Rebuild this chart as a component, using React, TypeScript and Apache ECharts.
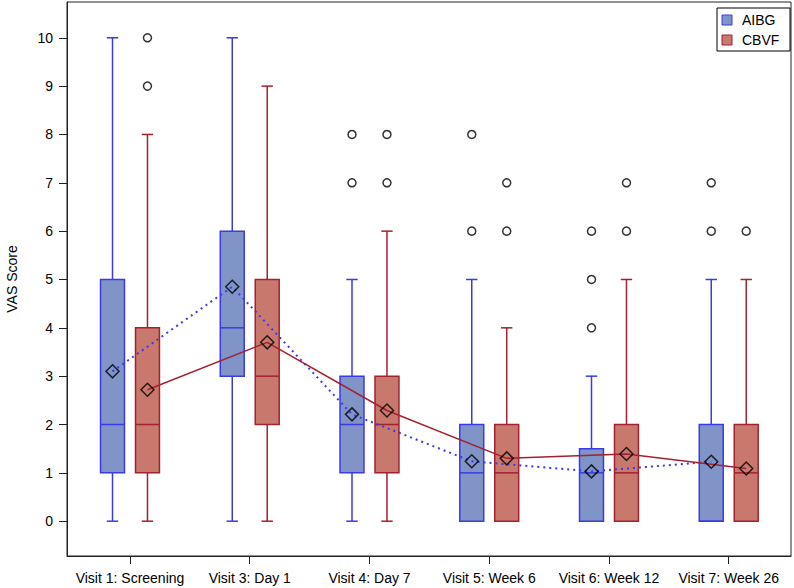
import React, { useEffect, useRef } from "react";
import * as echarts from "echarts";

const categories = [
  "Visit 1: Screening",
  "Visit 3: Day 1",
  "Visit 4: Day 7",
  "Visit 5: Week 6",
  "Visit 6: Week 12",
  "Visit 7: Week 26",
];
const seriesNames = ["AIBG", "CBVF"];
const yTicks = [0, 1, 2, 3, 4, 5, 6, 7, 8, 9, 10];

const aibgMin = [0, 0, 0, 0, 0, 0];
const aibgQ1 = [1, 3, 1, 0, 0, 0];
const aibgMedian = [2, 4, 2, 1, 1, 0];
const aibgQ3 = [5, 6, 3, 2, 1.5, 2];
const aibgMax = [10, 10, 5, 5, 3, 5];
const aibgMean = [3.1, 4.85, 2.21, 1.24, 1.03, 1.23];
const aibgOutliers = [[], [], [7, 8], [6, 8], [4, 5, 6], [6, 7]];

const cbvfMin = [0, 0, 0, 0, 0, 0];
const cbvfQ1 = [1, 2, 1, 0, 0, 0];
const cbvfMedian = [2, 3, 2, 1, 1, 1];
const cbvfQ3 = [4, 5, 3, 2, 2, 2];
const cbvfMax = [8, 9, 6, 4, 5, 5];
const cbvfMean = [2.72, 3.7, 2.29, 1.3, 1.39, 1.09];
const cbvfOutliers = [[9, 10], [], [7, 8], [6, 7], [6, 7], [6]];

const FONT = "Liberation Sans, Arial, Helvetica, sans-serif";
const OFFSET = 0.146; // group offset in category units
const BOX_W = 0.2; // box width in category units
const CAP_W = 0.095;

const AIBG_FILL = "#8094c8";
const AIBG_STROKE = "#3a3ae6";
const CBVF_FILL = "#c8786c";
const CBVF_STROKE = "#a32130";

function boxData(mn: number[], q1: number[], md: number[], q3: number[], mx: number[]) {
  return categories.map((_, i) => [i, mn[i], q1[i], md[i], q3[i], mx[i]]);
}

function makeBoxSeries(name: string, data: number[][], offset: number, fill: string, stroke: string) {
  return {
    type: "custom",
    name,
    xAxisIndex: 0,
    yAxisIndex: 0,
    encode: { x: 0, y: [1, 2, 3, 4, 5] },
    data,
    z: 2,
    renderItem: (params: any, api: any) => {
      const i = api.value(0) + offset;
      const pMin = api.coord([i, api.value(1)]);
      const pQ1 = api.coord([i, api.value(2)]);
      const pMd = api.coord([i, api.value(3)]);
      const pQ3 = api.coord([i, api.value(4)]);
      const pMax = api.coord([i, api.value(5)]);
      const unit = api.size([1, 0])[0];
      const bw = BOX_W * unit;
      const cw = CAP_W * unit;
      const x = pQ1[0];
      const ls = { stroke, lineWidth: 1.5 };
      return {
        type: "group",
        children: [
          { type: "line", shape: { x1: x, y1: pMin[1], x2: x, y2: pQ1[1] }, style: ls },
          { type: "line", shape: { x1: x, y1: pQ3[1], x2: x, y2: pMax[1] }, style: ls },
          { type: "line", shape: { x1: x - cw / 2, y1: pMin[1], x2: x + cw / 2, y2: pMin[1] }, style: ls },
          { type: "line", shape: { x1: x - cw / 2, y1: pMax[1], x2: x + cw / 2, y2: pMax[1] }, style: ls },
          {
            type: "rect",
            shape: { x: x - bw / 2, y: pQ3[1], width: bw, height: pQ1[1] - pQ3[1] },
            style: { fill, stroke, lineWidth: 1.5 },
          },
          { type: "line", shape: { x1: x - bw / 2, y1: pMd[1], x2: x + bw / 2, y2: pMd[1] }, style: ls },
        ],
      };
    },
  };
}

function outlierData(list: number[][], offset: number) {
  const out: number[][] = [];
  list.forEach((vals, i) => vals.forEach((v) => out.push([i + offset, v])));
  return out;
}

function meanData(means: number[], offset: number) {
  return means.map((m, i) => [i + offset, m]);
}

export default function App() {
  const ref = useRef<HTMLDivElement>(null);
  useEffect(() => {
    if (!ref.current) return;
    const chart = echarts.init(ref.current, null, { renderer: "svg" });
    const option: any = {
      animation: false,
      backgroundColor: "#fff",
      textStyle: { fontFamily: FONT },
      grid: {
        left: 67,
        right: 3,
        top: 2,
        bottom: 32,
        outerBoundsMode: "none",
        containLabel: false,
        show: true,
        borderColor: "#222",
        borderWidth: 1,
        backgroundColor: "transparent",
      },
      xAxis: {
        type: "value",
        min: -0.526,
        max: 5.52,
        axisLine: { show: true, onZero: false, lineStyle: { color: "#222", width: 1 } },
        axisTick: { show: true, length: 8, customValues: [0, 1, 2, 3, 4, 5], lineStyle: { color: "#222" } },
        axisLabel: {
          customValues: [0, 1, 2, 3, 4, 5],
          formatter: (v: number) => categories[Math.round(v)] ?? "",
          fontSize: 14,
          color: "#000",
          margin: 15,
          fontFamily: FONT,
        },
        splitLine: { show: false },
      },
      yAxis: {
        type: "value",
        min: -0.72,
        max: 10.74,
        name: "VAS Score",
        nameLocation: "middle",
        nameGap: 48,
        nameTextStyle: { fontSize: 14, color: "#000", fontFamily: FONT },
        axisLine: { show: true, onZero: false, lineStyle: { color: "#222", width: 1 } },
        axisTick: { show: true, length: 8, customValues: yTicks, lineStyle: { color: "#222" } },
        axisLabel: {
          customValues: yTicks,
          fontSize: 14,
          color: "#000",
          margin: 14,
          fontFamily: FONT,
        },
        splitLine: { show: false },
      },
      series: [
        makeBoxSeries(seriesNames[0], boxData(aibgMin, aibgQ1, aibgMedian, aibgQ3, aibgMax), -OFFSET, AIBG_FILL, AIBG_STROKE),
        makeBoxSeries(seriesNames[1], boxData(cbvfMin, cbvfQ1, cbvfMedian, cbvfQ3, cbvfMax), OFFSET, CBVF_FILL, CBVF_STROKE),
        {
          type: "line",
          name: seriesNames[0] + " mean",
          data: meanData(aibgMean, -OFFSET),
          symbol: "none",
          z: 3,
          lineStyle: { color: AIBG_STROKE, width: 2, type: [2, 4] },
        },
        {
          type: "line",
          name: seriesNames[1] + " mean",
          data: meanData(cbvfMean, OFFSET),
          symbol: "none",
          z: 3,
          lineStyle: { color: CBVF_STROKE, width: 1.5 },
        },
        {
          type: "scatter",
          data: [...meanData(aibgMean, -OFFSET), ...meanData(cbvfMean, OFFSET)],
          symbol: "diamond",
          symbolSize: [13, 13],
          z: 4,
          itemStyle: { color: "rgba(0,0,0,0)", borderColor: "#000", borderWidth: 1.5 },
        },
        {
          type: "scatter",
          data: [...outlierData(aibgOutliers, -OFFSET), ...outlierData(cbvfOutliers, OFFSET)],
          symbol: "circle",
          symbolSize: 8,
          z: 4,
          itemStyle: { color: "rgba(0,0,0,0)", borderColor: "#000", borderWidth: 1.5 },
        },
      ],
      graphic: [
        {
          type: "rect",
          shape: { x: 717, y: 8, width: 73, height: 43 },
          style: { fill: "#fff", stroke: "#000", lineWidth: 1 },
          z: 10,
        },
        {
          type: "rect",
          shape: { x: 722, y: 15, width: 10, height: 10 },
          style: { fill: AIBG_FILL, stroke: AIBG_STROKE, lineWidth: 1 },
          z: 11,
        },
        {
          type: "rect",
          shape: { x: 722, y: 35, width: 10, height: 10 },
          style: { fill: CBVF_FILL, stroke: CBVF_STROKE, lineWidth: 1 },
          z: 11,
        },
        {
          type: "text",
          x: 742,
          y: 20,
          style: { text: seriesNames[0], fontSize: 14, fontFamily: FONT, fill: "#000", verticalAlign: "middle" },
          z: 11,
        },
        {
          type: "text",
          x: 742,
          y: 40,
          style: { text: seriesNames[1], fontSize: 14, fontFamily: FONT, fill: "#000", verticalAlign: "middle" },
          z: 11,
        },
      ],
    };
    chart.setOption(option);
    return () => chart.dispose();
  }, []);
  return (
    <div
      ref={ref}
      style={{ position: "absolute", left: 0, top: 0, width: 794, height: 588, background: "#fff" }}
    />
  );
}
